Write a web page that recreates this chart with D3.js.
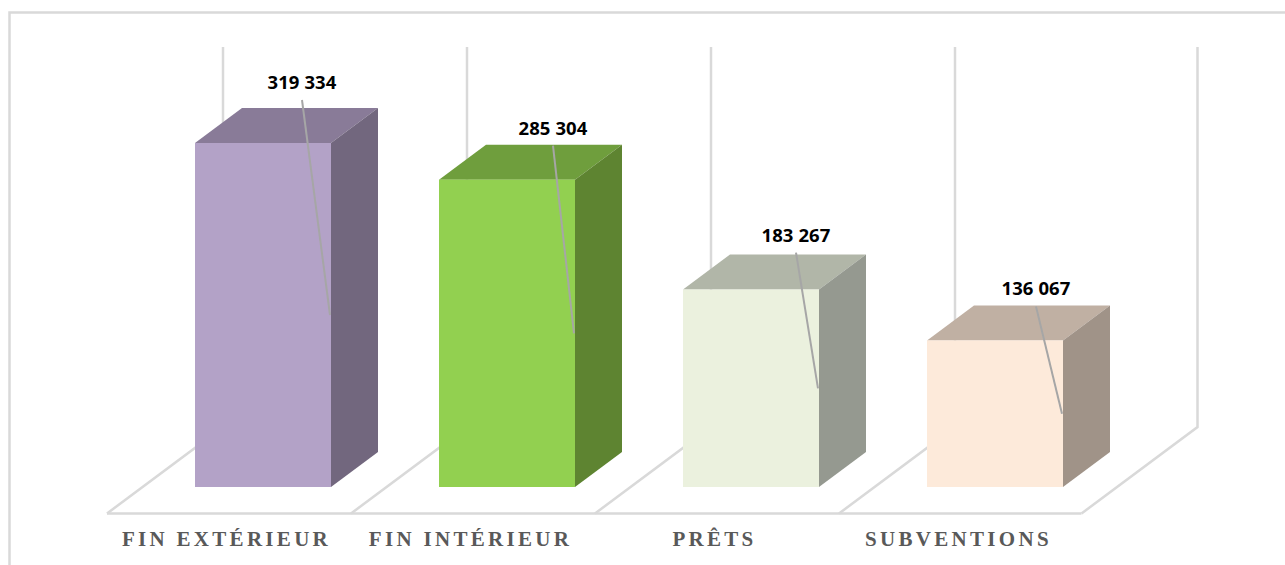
<!DOCTYPE html>
<html>
<head>
<meta charset="utf-8">
<script src="https://cdnjs.cloudflare.com/ajax/libs/d3/7.8.5/d3.min.js"></script>
<style>
  html, body { margin: 0; padding: 0; background: #fff; overflow: hidden; }
  .value-label { font-family: "Open Sans", sans-serif; font-weight: 700; font-size: 18.5px; letter-spacing: 0.1px; fill: #000; }
  .cat-label { font-family: "Liberation Serif", serif; font-weight: 700; font-size: 21px; letter-spacing: 3.3px; fill: #595959; }
</style>
</head>
<body>
<div id="chart"></div>
<script>
var width = 1285,
    height = 565;

var categories = ["FIN EXTÉRIEUR", "FIN INTÉRIEUR", "PRÊTS", "SUBVENTIONS"];
var values = [319334, 285304, 183267, 136067];
var labels = ["319 334", "285 304", "183 267", "136 067"];

var frontColors = ["#b3a2c7", "#92d050", "#ebf1de", "#fdeada"];
var topColors = ["#897b98", "#6f9e3d", "#b1b6a8", "#c0b0a3"];
var sideColors = ["#72677e", "#5e8431", "#959990", "#a09388"];

// where each value label sits, relative to the top left corner of its bar
var labelDx = [107, 114, 113, 109];
var labelDy = [-60, -51, -54, -51];

var floorFront = 513.5, floorBack = 427, floorShift = 116;
var wallTop = 47;
var barInset = 88, barWidth = 136, barBase = 487;
var depthX = 47, depthY = 35;

var svg = d3.select("#chart")
    .append("svg")
    .attr("width", width)
    .attr("height", height)
    .style("display", "block");

var x = d3.scaleBand()
    .domain(categories)
    .range([107, 1083]);

var y = d3.scaleLinear()
    .domain([0, d3.max(values)])
    .range([barBase, 143]);

var gridColor = "#d9d9d9";

// frame of the chart, only top and left are visible
svg.append("path")
    .attr("d", "M9.5," + height + "V12.5H" + width)
    .attr("fill", "none")
    .attr("stroke", gridColor)
    .attr("stroke-width", 2.5);

// floor and back wall, the last edge stops a little short of the band
var floorEnd = x.range()[1] - 1.5;
var edges = categories.map(function(c) { return x(c); }).concat([floorEnd]);

var grid = svg.append("g")
    .attr("fill", "none")
    .attr("stroke", gridColor)
    .attr("stroke-width", 2.5);

grid.append("line")
    .attr("x1", x.range()[0]).attr("x2", floorEnd)
    .attr("y1", floorFront).attr("y2", floorFront);

grid.selectAll(".floor-line")
    .data(edges)
    .enter().append("path")
    .attr("class", "floor-line")
    .attr("d", function(d) {
      return "M" + d + "," + floorFront + "L" + (d + floorShift) + "," + floorBack + "V" + wallTop;
    });

// bars: top, side, then front face
var bars = svg.selectAll(".bar")
    .data(categories)
    .enter().append("g")
    .attr("class", "bar");

function barLeft(c) { return x(c) + barInset; }
function barTop(i) { return y(values[i]); }

bars.append("path")
    .attr("fill", function(d, i) { return topColors[i]; })
    .attr("d", function(d, i) {
      var l = barLeft(d), t = barTop(i);
      return "M" + l + "," + t + "l" + depthX + "," + (-depthY) + "h" + barWidth + "l" + (-depthX) + "," + depthY + "Z";
    });

bars.append("path")
    .attr("fill", function(d, i) { return sideColors[i]; })
    .attr("d", function(d, i) {
      var r = barLeft(d) + barWidth, t = barTop(i);
      return "M" + r + "," + t + "l" + depthX + "," + (-depthY) + "V" + (barBase - depthY) + "L" + r + "," + barBase + "Z";
    });

bars.append("rect")
    .attr("fill", function(d, i) { return frontColors[i]; })
    .attr("x", barLeft)
    .attr("y", function(d, i) { return barTop(i); })
    .attr("width", barWidth)
    .attr("height", function(d, i) { return barBase - barTop(i); });

// leader lines from label to middle of the front face
bars.append("line")
    .attr("stroke", "#a6a6a6")
    .attr("stroke-width", 2)
    .attr("x1", function(d, i) { return barLeft(d) + labelDx[i]; })
    .attr("y1", function(d, i) { return barTop(i) + labelDy[i] + 17; })
    .attr("x2", function(d) { return barLeft(d) + barWidth - 1; })
    .attr("y2", function(d, i) { return (barTop(i) + barBase) / 2; });

bars.append("text")
    .attr("class", "value-label")
    .attr("text-anchor", "middle")
    .attr("x", function(d, i) { return barLeft(d) + labelDx[i]; })
    .attr("y", function(d, i) { return barTop(i) + labelDy[i] + 6; })
    .text(function(d, i) { return labels[i]; });

svg.selectAll(".cat-label")
    .data(categories)
    .enter().append("text")
    .attr("class", "cat-label")
    .attr("text-anchor", "middle")
    .attr("x", function(d) { return x(d) + x.bandwidth() / 2 - 2.5; })
    .attr("y", 546)
    .text(function(d) { return d; });
</script>
</body>
</html>
